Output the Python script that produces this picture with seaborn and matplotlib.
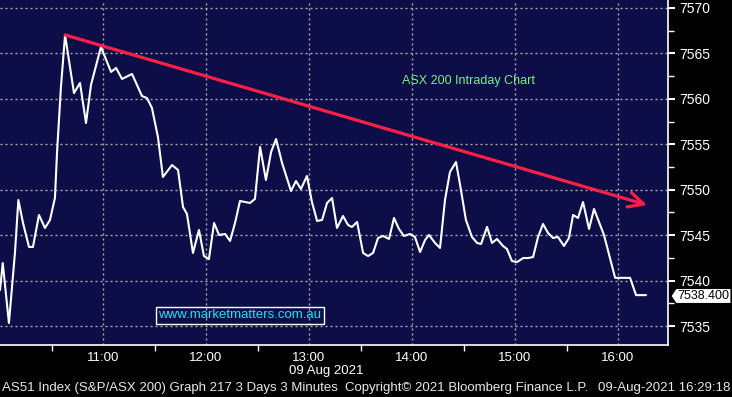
import matplotlib
matplotlib.use("Agg")
import matplotlib.pyplot as plt
from matplotlib.patches import Polygon
from matplotlib.ticker import FixedLocator, MultipleLocator
import numpy as np
import pandas as pd
import seaborn as sns

# ---- data (minutes after 10:00, index level) ----
minutes = [0.0, 1.6, 5.2, 8.7, 10.7, 13.4, 16.9, 19.2, 22.7, 26.2, 29.1, 32.0, 33.2, 35.5,
           37.9, 43.1, 46.6, 50.1, 53.0, 58.8, 64.7, 67.6, 71.1, 76.9, 82.7, 85.6, 88.5,
           92.0, 94.9, 100.2, 103.7, 106.6, 108.9, 112.4, 115.9, 118.8, 121.7, 124.7,
           127.6, 131.1, 134.0, 136.9, 139.8, 145.6, 148.5, 151.5, 154.9, 157.9, 160.8,
           164.3, 169.5, 172.4, 175.3, 178.8, 181.7, 184.7, 187.6, 190.5, 193.4, 196.3,
           199.8, 202.7, 205.0, 208.0, 211.5, 214.4, 217.3, 220.2, 223.1, 226.6, 229.5,
           232.4, 235.3, 238.8, 241.7, 244.7, 247.6, 249.9, 253.4, 256.3, 259.2, 262.1,
           265.6, 268.0, 271.4, 274.9, 277.9, 280.2, 283.7, 286.6, 289.5, 293.0, 295.3,
           298.2, 301.2, 304.7, 307.6, 310.5, 313.4, 316.3, 319.2, 322.1, 325.0, 328.5,
           331.4, 333.8, 336.7, 339.6, 343.1, 346.0, 348.9, 351.8, 358.3, 367.0, 370.5,
           376.3]
index_level = [7538.96, 7541.93, 7535.33, 7543.04, 7548.87, 7546.34, 7543.70, 7543.70,
               7547.22, 7545.79, 7546.67, 7549.09, 7554.04, 7561.31, 7567.03, 7560.64,
               7561.75, 7557.34, 7561.53, 7565.71, 7562.96, 7563.40, 7562.19, 7562.74,
               7560.31, 7560.09, 7559.00, 7555.80, 7551.40, 7552.72, 7552.17, 7548.10,
               7547.33, 7543.04, 7545.57, 7542.70, 7542.37, 7546.34, 7545.02, 7545.13,
               7544.36, 7546.34, 7548.76, 7548.54, 7548.98, 7554.70, 7551.07, 7554.15,
               7555.58, 7552.94, 7549.86, 7550.96, 7550.08, 7551.51, 7548.65, 7546.56,
               7546.67, 7548.54, 7549.09, 7545.79, 7547.11, 7546.12, 7545.90, 7546.45,
               7543.04, 7542.70, 7543.04, 7544.69, 7544.91, 7544.58, 7546.89, 7545.68,
               7544.91, 7545.13, 7544.80, 7543.15, 7544.47, 7545.02, 7544.14, 7543.59,
               7548.87, 7551.95, 7553.05, 7550.52, 7546.67, 7544.80, 7544.14, 7544.03,
               7545.90, 7544.14, 7544.58, 7543.81, 7543.48, 7542.15, 7542.04, 7542.48,
               7542.48, 7542.59, 7544.80, 7546.23, 7545.24, 7544.69, 7544.80, 7543.81,
               7544.69, 7547.22, 7546.89, 7548.65, 7545.68, 7547.88, 7546.45, 7545.02,
               7540.30, 7540.30, 7538.40, 7538.40]

trend_minutes = [37.9, 376.9]
trend_values = [7567.03, 7548.32]

hour_ticks = [60, 120, 180, 240, 300, 360]
hour_labels = ["11:00", "12:00", "13:00", "14:00", "15:00", "16:00"]
half_hour_ticks = [30, 90, 150, 210, 270, 330]
y_ticks = [7535, 7540, 7545, 7550, 7555, 7560, 7565, 7570]
last_price = "7538.400"

df = pd.DataFrame({"minute": minutes, "level": index_level})

# ---- style ----
sns.set_theme(style="dark")
plt.rcParams["font.family"] = ["Liberation Sans", "DejaVu Sans"]
plt.rcParams["lines.scale_dashes"] = False

W, H = 732, 397
fig = plt.figure(figsize=(W / 100, H / 100), dpi=100, facecolor="black")
ax = fig.add_axes([0, 1 - 345 / H, 668 / W, 345 / H])
ax.set_facecolor("#0d0d48")

sns.lineplot(data=df, x="minute", y="level", ax=ax, color="white", linewidth=1.5,
             estimator=None, sort=False)

ax.annotate("", xy=(trend_minutes[1], trend_values[1]),
            xytext=(trend_minutes[0], trend_values[0]),
            arrowprops=dict(arrowstyle="->,head_length=0.9,head_width=0.45",
                            color="#ff1f45", lw=2.3, shrinkA=0, shrinkB=0))

ax.set_xlim(0, 389.1)
ax.set_ylim(7532.91, 7570.88)

# grid
ax.grid(False)
for t in hour_ticks:
    ax.axvline(t, color="#a9a9a9", lw=1.0, dashes=(1.5, 2.1), zorder=0)
for v in y_ticks:
    ax.axhline(v, color="#a9a9a9", lw=1.0, dashes=(1.5, 2.1), zorder=0)

# spines
for s in ["left", "top"]:
    ax.spines[s].set_visible(False)
for s in ["bottom", "right"]:
    ax.spines[s].set_visible(True)
    ax.spines[s].set_color("white")
    ax.spines[s].set_linewidth(1.2)

# x axis
ax.xaxis.set_major_locator(FixedLocator(hour_ticks))
ax.set_xticklabels(hour_labels)
ax.xaxis.set_minor_locator(FixedLocator(half_hour_ticks))
ax.tick_params(axis="x", which="major", length=0, pad=5, labelsize=9.5, colors="white")
ax.tick_params(axis="x", which="minor", length=4, width=1, color="white", bottom=True)

# y axis on the right
ax.yaxis.tick_right()
ax.yaxis.set_major_locator(FixedLocator(y_ticks))
ax.set_yticklabels([str(v) for v in y_ticks])
ax.yaxis.set_minor_locator(MultipleLocator(2.5))
ax.tick_params(axis="y", which="major", length=5, width=1.5, pad=3, labelsize=10,
               colors="white", right=True, left=False)
ax.tick_params(axis="y", which="minor", length=4, width=1, color="white",
               right=True, left=False)
ax.set_xlabel("")
ax.set_ylabel("")

# annotations
ax.text(402 / 668, 1 - 81 / 345, "ASX 200 Intraday Chart", transform=ax.transAxes,
        color="#7cf07c", fontsize=9, ha="left", va="center")
ax.text(240 / 668, 1 - 315.5 / 345, "www.marketmatters.com.au", transform=ax.transAxes,
        color="#12e8f0", fontsize=9.5, ha="center", va="center",
        bbox=dict(boxstyle="square,pad=0.18", fc="none", ec="white", lw=1))

# last price tag
pts = [(671, 296), (676, 288.5), (731, 288.5), (731, 303.5), (676, 303.5)]
poly = Polygon([(x / W, 1 - y / H) for x, y in pts], closed=True, fc="white",
               ec="black", lw=0.8, transform=fig.transFigure, zorder=10)
fig.patches.append(poly)
fig.text(703.5 / W, 1 - 296 / H, last_price, color="black", fontsize=9,
         ha="center", va="center", zorder=11)

# footer texts
fig.text(289 / W, 1 - 371 / H, "09 Aug 2021", color="white", fontsize=9.5,
         ha="left", va="center")
fig.text(2 / W, 1 - 388 / H, "AS51 Index (S&P/ASX 200) Graph 217 3 Days 3 Minutes",
         color="#e8e8e8", fontsize=9.5, ha="left", va="center")
fig.text(345 / W, 1 - 388 / H, "Copyright\u00a9 2021 Bloomberg Finance L.P.",
         color="#e8e8e8", fontsize=9.5, ha="left", va="center")
fig.text(730 / W, 1 - 388 / H, "09-Aug-2021 16:29:18",
         color="#e8e8e8", fontsize=9.5, ha="right", va="center")

fig.savefig("out.png", dpi=100, facecolor="black")
